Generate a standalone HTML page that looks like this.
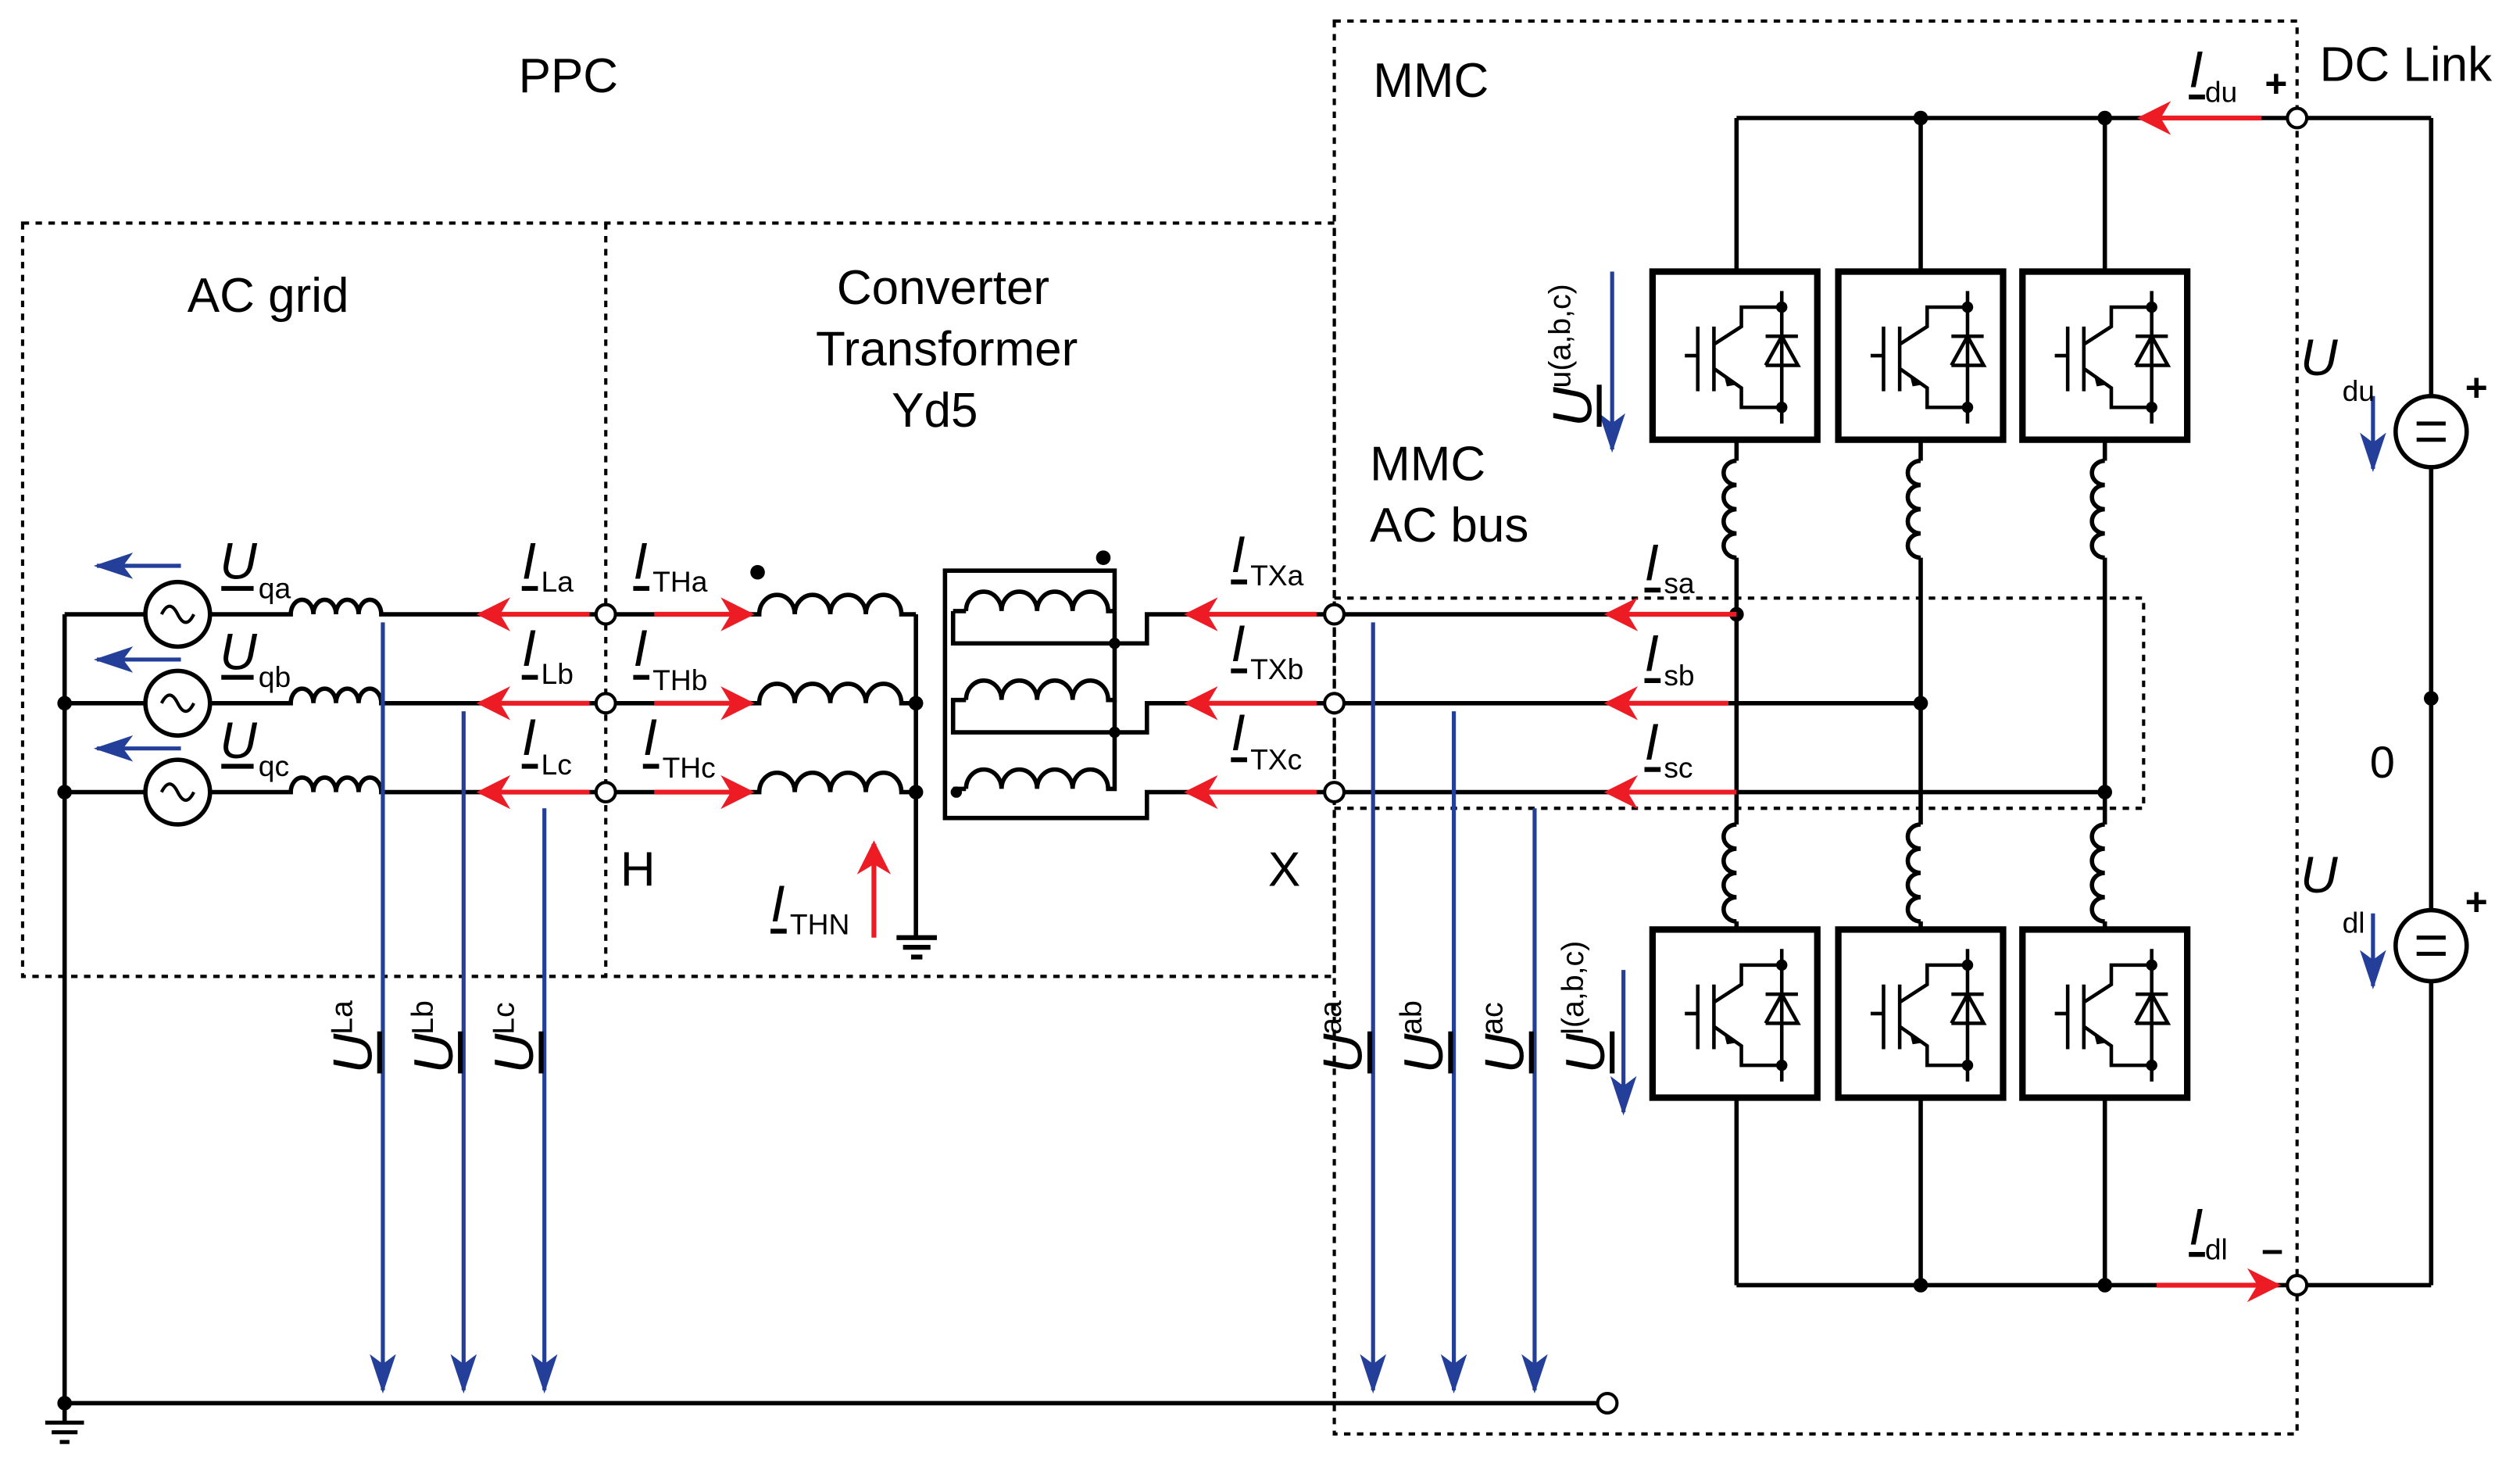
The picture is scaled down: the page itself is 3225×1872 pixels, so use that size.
<!DOCTYPE html>
<html><head><meta charset="utf-8"><style>
html,body{margin:0;padding:0;background:#fff}
svg{display:block}
text{font-family:"Liberation Sans",Arial,sans-serif;fill:#000}
.i{font-style:italic}
</style></head><body>
<svg width="3225" height="1872" viewBox="0 0 1560 905" preserveAspectRatio="none" xmlns="http://www.w3.org/2000/svg">
<defs>
<marker id="rb" viewBox="0 0 10 10" refX="9" refY="5" markerWidth="7" markerHeight="7" orient="auto" markerUnits="strokeWidth"><path d="M0,0 L10,5 L0,10 L3,5z" fill="#ed1c24"/></marker>
<marker id="bb" viewBox="0 0 12 8" refX="11" refY="4" markerWidth="10" markerHeight="6.5" orient="auto" markerUnits="strokeWidth"><path d="M0,0 L12,4 L0,8 L3,4z" fill="#233f99"/></marker>
<g id="mod">
<rect x="0" y="0" width="102" height="104" fill="#fff" stroke="#000" stroke-width="4"/>
<g fill="none" stroke="#000" stroke-width="2.2">
<path d="M20 52 H28 M28 34 V74 M38 34 V74 M38 45 L55 34 V22 H80 M38 60 L55 72 V84 H80 M80 12 V94 M70 40 H90 M70 58 H90 L80 40 L70 58"/>
</g>
<path d="M44 63 L52 70 L46 71z" fill="#000"/>
<circle cx="80" cy="22" r="3.5"/><circle cx="80" cy="84" r="3.5"/>
</g>
<path id="vcoil" d="M0 0 a8 7.5 0 0 0 0 15 a8 7.5 0 0 0 0 15 a8 7.5 0 0 0 0 15 a8 7.5 0 0 0 0 15" fill="none" stroke="#000" stroke-width="2.7"/>
</defs>

<g fill="none" stroke="#000" stroke-width="2" stroke-dasharray="4,4">
<rect x="14" y="138" width="812" height="466"/>
<line x1="375" y1="138" x2="375" y2="604"/>
<rect x="826" y="13" width="596" height="874"/>
<rect x="826" y="370" width="501" height="130"/>
</g>

<text x="321" y="57" font-size="30">PPC</text>
<text x="116" y="193" font-size="30">AC grid</text>
<text x="518" y="188" font-size="30">Converter</text>
<text x="505" y="226" font-size="30">Transformer</text>
<text x="552" y="264" font-size="30">Yd5</text>
<text x="850" y="60" font-size="30">MMC</text>
<text x="848" y="297" font-size="30">MMC</text>
<text x="848" y="335" font-size="30">AC bus</text>
<text x="1436" y="50" font-size="30">DC Link</text>
<text x="384" y="548" font-size="30">H</text>
<text x="785" y="548" font-size="30">X</text>
<text x="1467" y="481" font-size="28">0</text>

<g stroke="#000" stroke-width="2.7" fill="none">
<line x1="40" y1="380" x2="40" y2="880"/>
<line x1="40" y1="380" x2="90" y2="380"/>
<line x1="40" y1="435" x2="90" y2="435"/>
<line x1="40" y1="490" x2="90" y2="490"/>
<line x1="40" y1="868" x2="990" y2="868"/>
<circle cx="110" cy="380" r="20"/><circle cx="110" cy="435" r="20"/><circle cx="110" cy="490" r="20"/>
<path d="M100 380 q5 -10 10 0 t10 0 M100 435 q5 -10 10 0 t10 0 M100 490 q5 -10 10 0 t10 0" stroke-width="2"/>
<path d="M130 380 H180 a7 9 0 0 1 14 0 a7 9 0 0 1 14 0 a7 9 0 0 1 14 0 a7 9 0 0 1 14 0 H369"/>
<path d="M130 435 H180 a7 9 0 0 1 14 0 a7 9 0 0 1 14 0 a7 9 0 0 1 14 0 a7 9 0 0 1 14 0 H369"/>
<path d="M130 490 H180 a7 9 0 0 1 14 0 a7 9 0 0 1 14 0 a7 9 0 0 1 14 0 a7 9 0 0 1 14 0 H369"/>
<path d="M381 380 H470 a11 12 0 0 1 22 0 a11 12 0 0 1 22 0 a11 12 0 0 1 22 0 a11 12 0 0 1 22 0 H567"/>
<path d="M381 435 H470 a11 12 0 0 1 22 0 a11 12 0 0 1 22 0 a11 12 0 0 1 22 0 a11 12 0 0 1 22 0 H567"/>
<path d="M381 490 H470 a11 12 0 0 1 22 0 a11 12 0 0 1 22 0 a11 12 0 0 1 22 0 a11 12 0 0 1 22 0 H567"/>
<line x1="567" y1="380" x2="567" y2="580"/>
<line x1="555" y1="580" x2="580" y2="580" stroke-width="3"/>
<line x1="559" y1="586" x2="576" y2="586" stroke-width="3"/>
<line x1="564" y1="592" x2="571" y2="592" stroke-width="3"/>
<path d="M690 378 V353 H585 V506 H710 V490 H826"/>
<path d="M598 378 a11 12 0 0 1 22 0 a11 12 0 0 1 22 0 a11 12 0 0 1 22 0 a11 12 0 0 1 22 0 H690"/>
<path d="M598 378 H590 M590 378 V398 H690 V378"/>
<path d="M690 398 H710 V380 H820"/>
<path d="M598 433 a11 12 0 0 1 22 0 a11 12 0 0 1 22 0 a11 12 0 0 1 22 0 a11 12 0 0 1 22 0 H690 V398"/>
<path d="M598 433 H590 V453 H690 V433"/>
<path d="M690 453 H710 V435 H820"/>
<path d="M598 488 a11 12 0 0 1 22 0 a11 12 0 0 1 22 0 a11 12 0 0 1 22 0 a11 12 0 0 1 22 0 H690 V453"/>
<path d="M590 488 H598"/>
<line x1="832" y1="380" x2="1075" y2="380"/>
<line x1="832" y1="435" x2="1189" y2="435"/>
<line x1="832" y1="490" x2="1303" y2="490"/>
<line x1="1075" y1="73" x2="1416" y2="73"/>
<line x1="1075" y1="795" x2="1416" y2="795"/>
<line x1="1428" y1="73" x2="1505" y2="73"/>
<line x1="1428" y1="795" x2="1505" y2="795"/>
<line x1="1505" y1="73" x2="1505" y2="245"/>
<line x1="1505" y1="289" x2="1505" y2="563"/>
<line x1="1505" y1="607" x2="1505" y2="795"/>
<circle cx="1505" cy="267" r="22"/><circle cx="1505" cy="585" r="22"/>
<path d="M1496 262 H1514 M1496 272 H1514 M1496 580 H1514 M1496 590 H1514" stroke-width="2.5"/>
</g>
<g stroke="#000" stroke-width="2.7">
<line x1="1075" y1="73" x2="1075" y2="168"/><line x1="1189" y1="73" x2="1189" y2="168"/><line x1="1303" y1="73" x2="1303" y2="168"/>
<line x1="1075" y1="272" x2="1075" y2="285"/><line x1="1189" y1="272" x2="1189" y2="285"/><line x1="1303" y1="272" x2="1303" y2="285"/>
<line x1="1075" y1="345" x2="1075" y2="510"/><line x1="1189" y1="345" x2="1189" y2="510"/><line x1="1303" y1="345" x2="1303" y2="510"/>
<line x1="1075" y1="570" x2="1075" y2="575"/><line x1="1189" y1="570" x2="1189" y2="575"/><line x1="1303" y1="570" x2="1303" y2="575"/>
<line x1="1075" y1="680" x2="1075" y2="795"/><line x1="1189" y1="680" x2="1189" y2="795"/><line x1="1303" y1="680" x2="1303" y2="795"/>
</g>
<use href="#vcoil" x="1075" y="285"/><use href="#vcoil" x="1189" y="285"/><use href="#vcoil" x="1303" y="285"/>
<use href="#vcoil" x="1075" y="510"/><use href="#vcoil" x="1189" y="510"/><use href="#vcoil" x="1303" y="510"/>
<use href="#mod" x="1023" y="168"/><use href="#mod" x="1138" y="168"/><use href="#mod" x="1252" y="168"/>
<use href="#mod" x="1023" y="575"/><use href="#mod" x="1138" y="575"/><use href="#mod" x="1252" y="575"/>

<g fill="#000">
<circle cx="40" cy="435" r="4.5"/><circle cx="40" cy="490" r="4.5"/><circle cx="40" cy="868" r="4.5"/>
<circle cx="567" cy="435" r="4.5"/><circle cx="567" cy="490" r="4.5"/>
<circle cx="690" cy="398" r="3.5"/><circle cx="690" cy="453" r="3.5"/><circle cx="592" cy="490" r="3.5"/>
<circle cx="469" cy="354" r="4.5"/><circle cx="683" cy="345" r="4.5"/>
<circle cx="1075" cy="380" r="4.5"/><circle cx="1189" cy="435" r="4.5"/><circle cx="1303" cy="490" r="4.5"/>
<circle cx="1189" cy="73" r="4.5"/><circle cx="1303" cy="73" r="4.5"/>
<circle cx="1189" cy="795" r="4.5"/><circle cx="1303" cy="795" r="4.5"/>
<circle cx="1505" cy="432" r="4.5"/>
</g>
<g fill="#fff" stroke="#000" stroke-width="2">
<circle cx="375" cy="380" r="6"/><circle cx="375" cy="435" r="6"/><circle cx="375" cy="490" r="6"/>
<circle cx="826" cy="380" r="6"/><circle cx="826" cy="435" r="6"/><circle cx="826" cy="490" r="6"/>
<circle cx="1422" cy="73" r="6"/><circle cx="1422" cy="795" r="6"/><circle cx="995" cy="868" r="6"/>
</g>
<g stroke="#000" stroke-width="2.5">
<line x1="28" y1="880" x2="52" y2="880"/><line x1="32" y1="886" x2="48" y2="886"/><line x1="37" y1="892" x2="43" y2="892"/>
</g>

<g stroke="#233f99" stroke-width="2.5" marker-end="url(#bb)">
<line x1="237" y1="385" x2="237" y2="860"/><line x1="287" y1="440" x2="287" y2="860"/><line x1="337" y1="500" x2="337" y2="860"/>
<line x1="850" y1="385" x2="850" y2="860"/><line x1="900" y1="440" x2="900" y2="860"/><line x1="950" y1="500" x2="950" y2="860"/>
<line x1="1005" y1="600" x2="1005" y2="688"/>
<line x1="998" y1="168" x2="998" y2="278"/>
<line x1="1469" y1="245" x2="1469" y2="290"/>
<line x1="1469" y1="565" x2="1469" y2="610"/>
<line x1="112" y1="350" x2="60" y2="350"/><line x1="112" y1="408" x2="60" y2="408"/><line x1="112" y1="463" x2="60" y2="463"/>
</g>
<g stroke="#ed1c24" stroke-width="3" marker-end="url(#rb)">
<line x1="365" y1="380" x2="297" y2="380"/><line x1="365" y1="435" x2="297" y2="435"/><line x1="365" y1="490" x2="297" y2="490"/>
<line x1="405" y1="380" x2="465" y2="380"/><line x1="405" y1="435" x2="465" y2="435"/><line x1="405" y1="490" x2="465" y2="490"/>
<line x1="815" y1="380" x2="735" y2="380"/><line x1="815" y1="435" x2="735" y2="435"/><line x1="815" y1="490" x2="735" y2="490"/>
<line x1="1075" y1="380" x2="995" y2="380"/><line x1="1070" y1="435" x2="995" y2="435"/><line x1="1075" y1="490" x2="995" y2="490"/>
<line x1="1400" y1="73" x2="1325" y2="73"/>
<line x1="1335" y1="795" x2="1410" y2="795"/>
<line x1="541" y1="580" x2="541" y2="522"/>
</g>

<g font-size="32" class="i">
<text x="136" y="358" class="i">U</text><text x="136" y="414" class="i">U</text><text x="136" y="469" class="i">U</text>
<text x="323" y="358" class="i">I</text><text x="323" y="412" class="i">I</text><text x="323" y="467" class="i">I</text>
<text x="392" y="358" class="i">I</text><text x="392" y="412" class="i">I</text><text x="398" y="467" class="i">I</text>
<text x="477" y="570" class="i">I</text>
<text x="762" y="354" class="i">I</text><text x="762" y="409" class="i">I</text><text x="762" y="464" class="i">I</text>
<text x="1018" y="359" class="i">I</text><text x="1018" y="415" class="i">I</text><text x="1018" y="470" class="i">I</text>
<text x="1355" y="54" class="i">I</text><text x="1355" y="770" class="i">I</text>
<text x="1424" y="232" class="i">U</text><text x="1424" y="552" class="i">U</text>
</g>
<g font-size="18">
<text x="160" y="370">qa</text><text x="160" y="425">qb</text><text x="160" y="480">qc</text>
<text x="335" y="366">La</text><text x="335" y="423">Lb</text><text x="335" y="479">Lc</text>
<text x="404" y="366">THa</text><text x="404" y="427">THb</text><text x="410" y="481">THc</text>
<text x="489" y="578">THN</text>
<text x="774" y="362">TXa</text><text x="774" y="420">TXb</text><text x="774" y="476">TXc</text>
<text x="1030" y="367">sa</text><text x="1030" y="424">sb</text><text x="1030" y="481">sc</text>
<text x="1365" y="63">du</text><text x="1365" y="779">dl</text>
<text x="1450" y="248">du</text><text x="1450" y="577">dl</text>
</g>
<g font-size="24" font-weight="bold">
<text x="1402" y="60">+</text><text x="1400" y="781">–</text>
<text x="1526" y="248">+</text><text x="1526" y="566">+</text>
</g>
<g stroke="#000" stroke-width="3">
<path d="M137 364 H157 M137 419 H157 M137 474 H157 M323 364 H333 M323 419 H333 M323 474 H333 M392 364 H402 M392 419 H402 M398 474 H408 M477 576 H487 M762 360 H772 M762 415 H772 M762 470 H772 M1018 365 H1028 M1018 421 H1028 M1018 476 H1028 M1355 60 H1365 M1355 776 H1365"/>
</g>

<g font-size="34">
<text class="i" transform="translate(230,664) rotate(-90)">U</text>
<text font-size="19" transform="translate(218,640) rotate(-90)">La</text>
<text class="i" transform="translate(280,664) rotate(-90)">U</text>
<text font-size="19" transform="translate(268,640) rotate(-90)">Lb</text>
<text class="i" transform="translate(330,664) rotate(-90)">U</text>
<text font-size="19" transform="translate(318,640) rotate(-90)">Lc</text>
<text class="i" transform="translate(843,664) rotate(-90)">U</text>
<text font-size="19" transform="translate(830,640) rotate(-90)">aa</text>
<text class="i" transform="translate(893,664) rotate(-90)">U</text>
<text font-size="19" transform="translate(880,640) rotate(-90)">ab</text>
<text class="i" transform="translate(943,664) rotate(-90)">U</text>
<text font-size="19" transform="translate(930,640) rotate(-90)">ac</text>
<text class="i" transform="translate(993,664) rotate(-90)">U</text>
<text font-size="19" transform="translate(980,640) rotate(-90)">l(a,b,c)</text>
<text class="i" transform="translate(985,264) rotate(-90)">U</text>
<text font-size="19" transform="translate(972,240) rotate(-90)">u(a,b,c)</text>
</g>
<g stroke="#000" stroke-width="3">
<path d="M235 638 V664 M285 638 V664 M335 638 V664 M848 638 V664 M898 638 V664 M948 638 V664 M998 638 V664 M990 238 V264"/>
</g>
</svg>
</body></html>
